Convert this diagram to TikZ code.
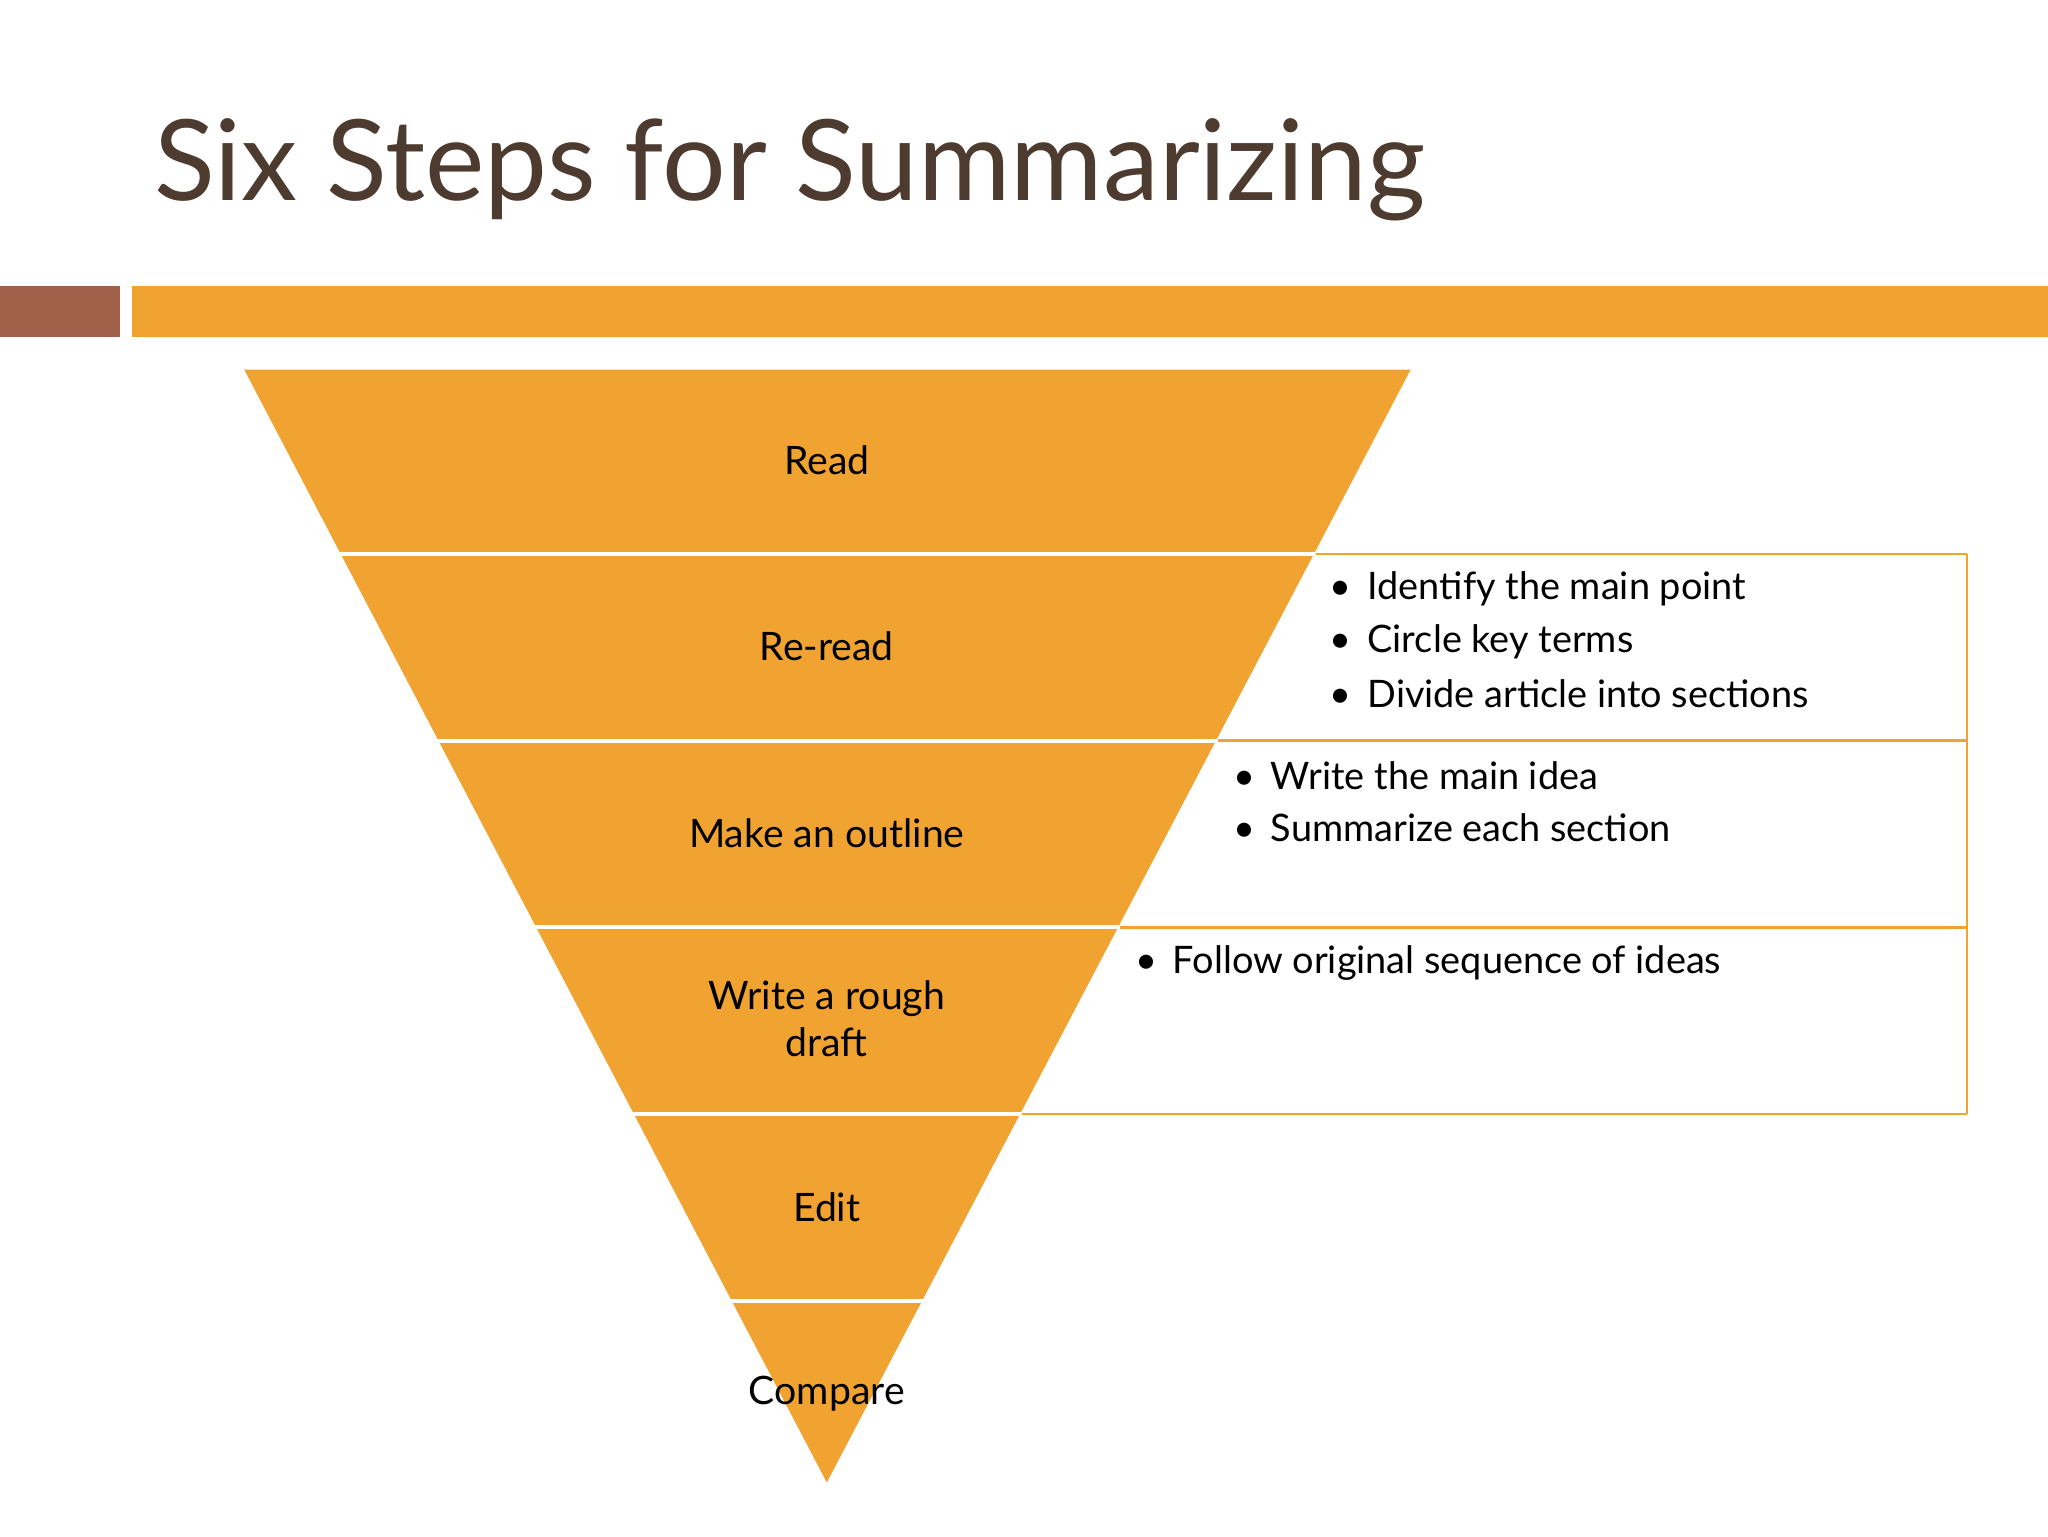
\documentclass[tikz,border=0pt]{standalone}
\usepackage{fontspec}
\setmainfont{Lato}
\begin{document}
\begin{tikzpicture}[x=1pt,y=-1pt,
  lbl/.style={font=\fontsize{30}{32}\selectfont, align=center, text=black},
  bul/.style={font=\fontsize{29}{40}\selectfont, anchor=west, inner sep=0pt, text=black},
  sep/.style={white, line width=3pt}]
\definecolor{org}{HTML}{F0A330}
\definecolor{brn}{HTML}{A0604A}
\definecolor{ttl}{HTML}{4E3B30}
\useasboundingbox (0,0) rectangle (1568,1176);
\node[anchor=west, text=ttl, font=\fontsize{86}{90}\selectfont, inner sep=0pt] (title) at (118,130) {Six Steps for Summarizing};
\fill[brn] (0,219) rectangle (92,258);
\fill[org] (101,219) rectangle (1568,258);
\coordinate (tl) at (187,283); \coordinate (tr) at (1080,283); \coordinate (ap) at (633,1135);
\fill[org] (tl)--(tr)--(ap)--cycle;
\foreach \y in {424,567,710,853,996}{
  \pgfmathsetmacro{\hw}{0.52406*(1135-\y)}
  \draw[sep] ({633-\hw-3},\y) -- ({633+\hw+3},\y);
}
\foreach \y in {424,567,710,853}{
  \pgfmathsetmacro{\hw}{0.52406*(1135-\y)}
  \draw[org, line width=2pt] ({633+\hw+2},\y) -- (1506,\y);
}
\draw[org, line width=2pt] (1506,424) -- (1506,853);
\node[lbl] (n1) at (633,352) {Read};
\node[lbl] (n2) at (633,495) {Re-read};
\node[lbl] (n3) at (633,638) {Make an outline};
\node[lbl, font=\fontsize{30}{36}\selectfont] (n4) at (633,780) {Write a rough\\draft};
\node[lbl] (n5) at (633,924) {Edit};
\node[lbl] (n6) at (633,1067) {Compare};
\node[bul] (b1) at (1018,451) {•\hspace{12pt}Identify the main point};
\node[bul] (b2) at (1018,491) {•\hspace{12pt}Circle key terms};
\node[bul] (b3) at (1018,531) {•\hspace{12pt}Divide article into sections};
\node[bul] (c1) at (944,594) {•\hspace{12pt}Write the main idea};
\node[bul] (c2) at (944,634) {•\hspace{12pt}Summarize each section};
\node[bul] (d1) at (869,737) {•\hspace{12pt}Follow original sequence of ideas};
\end{tikzpicture}
\end{document}
